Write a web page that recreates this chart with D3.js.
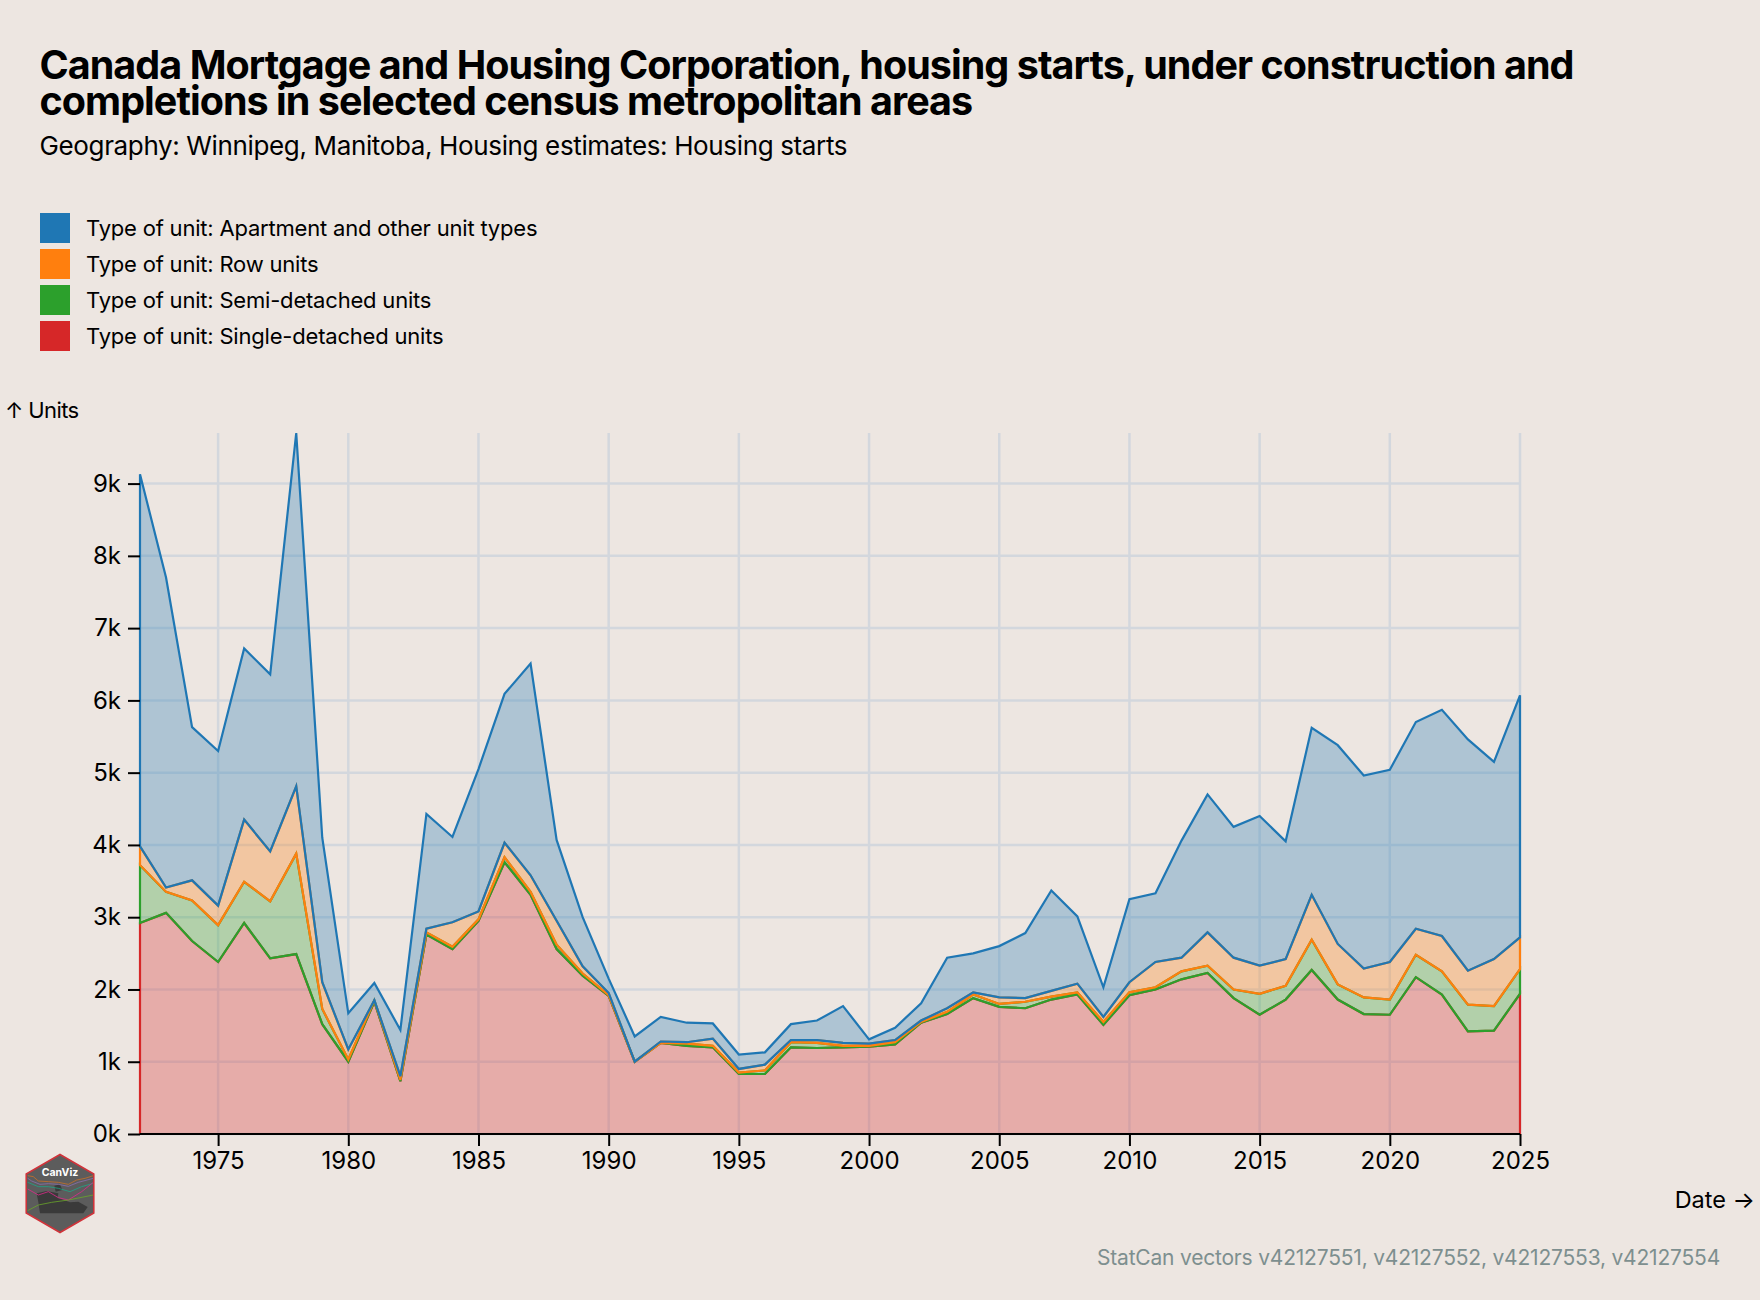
<!DOCTYPE html>
<html>
<head>
<meta charset="utf-8">
<script src="https://cdn.jsdelivr.net/npm/d3@7"></script>
<style>
  html, body { margin: 0; background: #ede6e1; }
  text { font-family: Inter, "Noto Sans", sans-serif; fill: #000; }
</style>
</head>
<body>
<svg id="chart" width="1760" height="1300"></svg>
<script>
var years = d3.range(1972, 2026)

var single = [2920,3060,2670,2380,2920,2430,2490,1520,1000,1830,730,2760,2560,2950,3760,3310,2560,2190,1910,1000,1260,1220,1200,830,830,1200,1190,1200,1210,1240,1540,1660,1880,1760,1740,1860,1930,1510,1920,2000,2140,2230,1880,1650,1860,2270,1860,1660,1650,2170,1930,1420,1430,1940]
var semi = [800,290,560,510,570,790,1390,210,30,20,20,30,30,20,70,40,60,30,10,0,0,30,20,20,50,70,70,20,10,30,10,30,50,40,90,40,30,40,40,30,110,100,120,290,190,420,210,230,210,310,320,370,340,340]
var row = [260,60,280,270,860,690,930,370,140,0,50,50,340,110,200,230,330,100,30,0,20,20,100,50,80,30,40,40,30,30,20,50,30,90,50,80,120,70,140,350,190,460,440,390,370,620,560,400,520,360,490,470,650,440]
var apartment = [5150,4290,2120,2140,2370,2450,4890,2000,500,240,640,1590,1180,1970,2060,2930,1120,680,200,350,340,270,210,200,170,220,270,510,60,170,240,700,540,710,900,1390,930,410,1150,950,1620,1910,1810,2070,1630,2310,2750,2670,2660,2860,3130,3200,2730,3350]

var seriesKeys = ['single', 'semi', 'row', 'apartment']
var seriesColors = { single: '#d62728', semi: '#2ca02c', row: '#ff7f0e', apartment: '#1f77b4' }
var legendLabels = [
  ['apartment', 'Type of unit: Apartment and other unit types'],
  ['row', 'Type of unit: Row units'],
  ['semi', 'Type of unit: Semi-detached units'],
  ['single', 'Type of unit: Single-detached units']
]
var xTicks = d3.range(1975, 2026, 5)
var yTicks = d3.range(0, 10000, 1000)

var titleLines = [
  'Canada Mortgage and Housing Corporation, housing starts, under construction and',
  'completions in selected census metropolitan areas'
]
var subtitle = 'Geography: Winnipeg, Manitoba, Housing estimates: Housing starts'
var source = 'StatCan vectors v42127551, v42127552, v42127553, v42127554'

// badge artwork, traced in a 270x300 frame
var badgeLines = [
  { color: '#c8702a', pts: [[38,92],[55,95],[70,108],[100,110],[130,112],[160,118],[185,105],[210,100],[235,92]] },
  { color: '#8a6fb0', pts: [[38,100],[50,108],[75,118],[100,116],[130,118],[160,124],[190,112],[235,100]] },
  { color: '#1fa585', pts: [[38,112],[70,125],[100,125],[130,130],[165,140],[200,125],[235,115]] },
  { color: '#e0288a', pts: [[38,132],[70,150],[100,140],[130,158],[160,165],[200,140],[235,112]] },
  { color: '#6aa62a', pts: [[38,197],[70,180],[110,172],[160,165],[235,150]] }
]
var badgeMap = [[65,145],[95,138],[130,145],[128,158],[165,172],[190,170],[218,186],[205,205],[75,205],[70,172]]
var badgeIsland = [[118,122],[135,118],[142,135],[122,140]]

var rows = years.map(function(y, i) {
  return { year: y, single: single[i], semi: semi[i], row: row[i], apartment: apartment[i] }
})

var svg = d3.select('#chart')

var x = d3.scaleLinear().domain([1972, 2025]).range([140, 1520])
var y = d3.scaleLinear().domain([0, 9700]).range([1134, 433])

// title block
svg.selectAll('text.title')
  .data(titleLines)
  .enter()
  .append('text')
  .attr('class', 'title')
  .attr('x', 39.5)
  .attr('y', function(d, i) { return 79 + i * 36 })
  .attr('font-size', 39.5)
  .attr('font-weight', 700)
  .attr('letter-spacing', -0.96)
  .text(function(d) { return d })

svg.append('text')
  .attr('x', 39.5)
  .attr('y', 155)
  .attr('font-size', 26)
  .attr('letter-spacing', -0.36)
  .text(subtitle)

// legend
var legend = svg.selectAll('g.legend')
  .data(legendLabels)
  .enter()
  .append('g')
  .attr('class', 'legend')
  .attr('transform', function(d, i) { return 'translate(40,' + (213 + i * 36) + ')' })

legend.append('rect')
  .attr('width', 30)
  .attr('height', 30)
  .attr('fill', function(d) { return seriesColors[d[0]] })

legend.append('text')
  .attr('x', 46)
  .attr('y', 23)
  .attr('font-size', 22)
  .attr('letter-spacing', -0.2)
  .text(function(d) { return d[1] })

// grid
svg.selectAll('line.gridx')
  .data(xTicks)
  .enter()
  .append('line')
  .attr('class', 'gridx')
  .attr('x1', function(d) { return x(d) })
  .attr('x2', function(d) { return x(d) })
  .attr('y1', y(0))
  .attr('y2', y.range()[1])
  .attr('stroke', '#d3d7dd')
  .attr('stroke-width', 2.5)

svg.selectAll('line.gridy')
  .data(yTicks)
  .enter()
  .append('line')
  .attr('class', 'gridy')
  .attr('x1', x.range()[0])
  .attr('x2', x.range()[1])
  .attr('y1', function(d) { return y(d) })
  .attr('y2', function(d) { return y(d) })
  .attr('stroke', '#d3d7dd')
  .attr('stroke-width', 2.5)

// stacked areas, bottom layer first so each outline sits on the one below
var stacked = d3.stack().keys(seriesKeys)(rows)

var area = d3.area()
  .x(function(d) { return x(d.data.year) })
  .y0(function(d) { return y(d[0]) })
  .y1(function(d) { return y(d[1]) })

svg.selectAll('path.layer')
  .data(stacked)
  .enter()
  .append('path')
  .attr('class', 'layer')
  .attr('d', area)
  .attr('fill', function(d) { return seriesColors[d.key] })
  .attr('fill-opacity', 0.3)
  .attr('stroke', function(d) { return seriesColors[d.key] })
  .attr('stroke-width', 2.2)

// axes
var xAxis = d3.axisBottom(x)
  .tickValues(xTicks)
  .tickFormat(d3.format('d'))
  .tickSize(12)
  .tickPadding(6)

var yAxis = d3.axisLeft(y)
  .tickValues(yTicks)
  .tickFormat(function(d) { return (d / 1000) + 'k' })
  .tickSize(12)
  .tickPadding(7)

var gx = svg.append('g')
  .attr('transform', 'translate(0,' + y(0) + ')')
  .call(xAxis)
gx.select('.domain').attr('stroke-width', 2).attr('d', 'M' + x.range()[0] + ',0H' + x.range()[1])
gx.selectAll('.tick line').attr('stroke-width', 2)
gx.selectAll('text').attr('font-size', 24).attr('font-family', 'Inter')

var gy = svg.append('g')
  .attr('transform', 'translate(' + x.range()[0] + ',0)')
  .call(yAxis)
gy.select('.domain').remove()
gy.selectAll('.tick line').attr('stroke-width', 2)
gy.selectAll('text').attr('font-size', 24).attr('font-family', 'Inter')

svg.append('text')
  .attr('x', 5)
  .attr('y', 418)
  .attr('font-size', 22)
  .attr('letter-spacing', -0.6)
  .text('↑ Units')

svg.append('text')
  .attr('x', 1755)
  .attr('y', 1208)
  .attr('text-anchor', 'end')
  .attr('font-size', 23.5)
  .text('Date →')

svg.append('text')
  .attr('x', 1720)
  .attr('y', 1265)
  .attr('text-anchor', 'end')
  .attr('font-size', 21)
  .attr('letter-spacing', -0.2)
  .style('fill', '#7d8f8f')
  .text(source)

// CanViz badge
var bx = d3.scaleLinear().domain([0, 270]).range([15, 105])
var by = d3.scaleLinear().domain([0, 300]).range([1145, 1245])
var badgeLine = d3.line()
  .x(function(d) { return bx(d[0]) })
  .y(function(d) { return by(d[1]) })

var hex = d3.range(6).map(function(i) {
  var a = Math.PI / 6 + i * Math.PI / 3
  return [60 + 39 * Math.cos(a), 1193.5 + 39 * Math.sin(a)]
})
var badge = svg.append('g')
badge.append('polygon')
  .attr('points', hex.join(' '))
  .attr('fill', '#5c5c5c')
badge.selectAll('path.map')
  .data([badgeMap, badgeIsland])
  .enter()
  .append('path')
  .attr('class', 'map')
  .attr('d', function(d) { return badgeLine(d) + 'Z' })
  .attr('fill', '#3a3a3a')
badge.selectAll('path.trend')
  .data(badgeLines)
  .enter()
  .append('path')
  .attr('class', 'trend')
  .attr('d', function(d) { return badgeLine(d.pts) })
  .attr('fill', 'none')
  .attr('stroke', function(d) { return d.color })
  .attr('stroke-width', 0.8)
badge.append('polygon')
  .attr('points', hex.join(' '))
  .attr('fill', 'none')
  .attr('stroke', '#d0333a')
  .attr('stroke-width', 1.6)
badge.append('text')
  .attr('x', 60)
  .attr('y', 1176)
  .attr('text-anchor', 'middle')
  .attr('font-size', 10.5)
  .attr('font-weight', 700)
  .style('fill', '#fff')
  .text('CanViz')
</script>
</body>
</html>
